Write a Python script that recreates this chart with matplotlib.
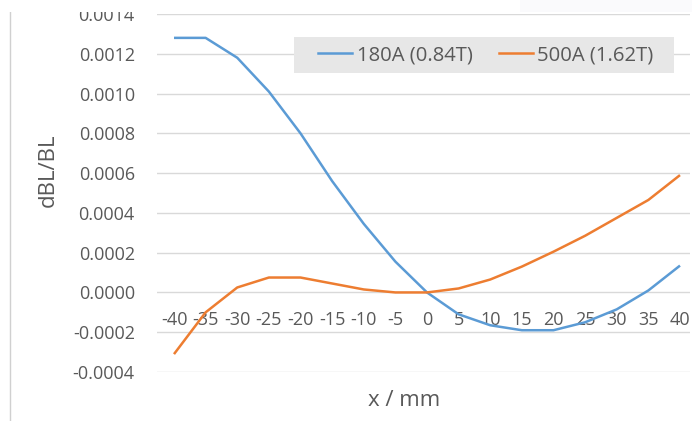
import matplotlib
matplotlib.use("Agg")
import matplotlib.pyplot as plt
from matplotlib.lines import Line2D
from matplotlib.patches import Rectangle

plt.rcParams["font.family"] = ["Open Sans", "DejaVu Sans"]

# positions along the gap, mm
x_mm = [-40, -35, -30, -25, -20, -15, -10, -5, 0, 5, 10, 15, 20, 25, 30, 35, 40]

# relative BL deviation
bl_180a = [0.00128, 0.00128, 0.00118, 0.00101, 0.00080, 0.00056, 0.000345, 0.000155,
           0.0, -0.00011, -0.000165, -0.00019, -0.00019, -0.00015, -0.000085, 0.00001, 0.000135]
bl_500a = [-0.00031, -0.0001, 0.000025, 0.000075, 0.000075, 0.000045, 0.000015, 0.0,
           0.0, 0.00002, 0.000065, 0.00013, 0.000205, 0.000285, 0.000375, 0.000465, 0.00059]

series_names = ["180A (0.84T)", "500A (1.62T)"]
y_ticks = [-0.0004, -0.0002, 0.0, 0.0002, 0.0004, 0.0006, 0.0008, 0.0010, 0.0012, 0.0014]

BLUE = "#5B9BD5"
ORANGE = "#ED7D31"
TXT = "#595959"
GRID = "#d9d9d9"

W, H = 692, 421
fig = plt.figure(figsize=(W / 100, H / 100), dpi=100)


def fx(p):
    return p / W


def fy(p):
    return 1 - p / H


# plot area in pixels: left 157, right 690, top 14, bottom 372
ax = fig.add_axes([fx(157), fy(372), (690 - 157) / W, (372 - 14) / H])

ax.plot(x_mm, bl_180a, color=BLUE, lw=1.8, solid_capstyle="butt", zorder=3)
ax.plot(x_mm, bl_500a, color=ORANGE, lw=1.8, solid_capstyle="butt", zorder=3)

px = (680 - 174) / 80
ax.set_xlim(-40 - 17 / px, 40 + 10 / px)
ax.set_ylim(-0.0004, 0.0014)

ax.set_yticks(y_ticks)
ax.set_yticklabels(["%.4f" % v for v in y_ticks], fontsize=13, color=TXT)
ax.tick_params(axis="y", length=0, pad=16)
ax.grid(axis="y", color=GRID, lw=1)
ax.set_axisbelow(True)

# category labels sit just under the zero line
ax.set_xticks([])
for xv in x_mm:
    ax.annotate(str(xv), (xv, 0.0), xytext=(0, -13.5), textcoords="offset points",
                ha="center", va="top", fontsize=13, color=TXT, zorder=2)

for s in ax.spines.values():
    s.set_visible(False)

fig.text(fx(404), fy(400), "x / mm", ha="center", va="center", fontsize=16, color=TXT)
fig.text(fx(48), fy(170), "dBL/BL", ha="center", va="center", rotation=90,
         fontsize=16, color=TXT)

# legend: grey box drawn by hand, entries on top of it
fig.add_artist(Rectangle((fx(294), fy(73)), (674 - 294) / W, (73 - 37) / H,
                         transform=fig.transFigure, facecolor="#e7e7e7",
                         edgecolor="none", zorder=4))
handles = [Line2D([], [], color=BLUE, lw=1.8), Line2D([], [], color=ORANGE, lw=1.8)]
leg = fig.legend(handles, series_names, loc="center left",
                 bbox_to_anchor=(fx(318), fy(55)), ncol=2, frameon=False,
                 fontsize=14.6, handlelength=1.7, handletextpad=0.2,
                 columnspacing=1.3, borderpad=0, borderaxespad=0)
leg.set_zorder(5)
for t in leg.get_texts():
    t.set_color(TXT)

# outer frame edge on the left
fig.add_artist(Line2D([fx(10), fx(10)], [0, fy(12)], color="#d0d0d0", lw=1))

# band across the top edge
fig.add_artist(Rectangle((0, fy(12)), 1, 12 / H, transform=fig.transFigure,
                         facecolor="white", edgecolor="none", zorder=10))
fig.add_artist(Rectangle((fx(520), fy(12)), 1, 12 / H, transform=fig.transFigure,
                         facecolor="#fafafc", edgecolor="none", zorder=10))

fig.savefig("out.png", dpi=100)
